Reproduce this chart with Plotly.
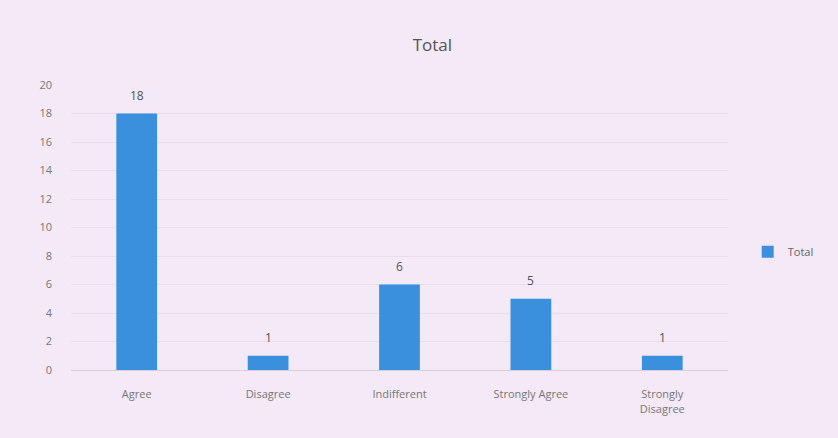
import plotly.graph_objects as go

categories = ["Agree", "Disagree", "Indifferent", "Strongly Agree", "Strongly<br>Disagree"]
values = [18, 1, 6, 5, 1]
y_ticks = [0, 2, 4, 6, 8, 10, 12, 14, 16, 18, 20]

bg = "#f4e9f6"
fig = go.Figure()
fig.add_trace(go.Bar(
    x=categories, y=values, name="Total",
    marker=dict(color="#3b90dd", line=dict(width=0)),
    width=0.31,
))
for c, v in zip(categories, values):
    fig.add_annotation(x=c, y=v, text=str(v), showarrow=False, yanchor="bottom",
                       yshift=8, font=dict(family="Open Sans", size=12, color="#555555"))
fig.update_layout(
    width=838, height=438,
    paper_bgcolor=bg, plot_bgcolor=bg,
    margin=dict(l=71, r=110, t=85, b=68, autoexpand=False),
    title=dict(text="Total", x=0.516, xanchor="center", y=0.897, yanchor="middle",
               font=dict(family="Open Sans", size=17, color="#555555")),
    showlegend=True,
    legend=dict(x=1.03, y=0.415, xanchor="left", yanchor="middle",
                font=dict(family="Open Sans", size=11, color="#666666"),
                bgcolor="rgba(0,0,0,0)", itemwidth=30),
    font=dict(family="Open Sans", size=11, color="#777777"),
)
fig.update_xaxes(showgrid=False, showline=True, linecolor="#d9cfdc", linewidth=1,
                 tickfont=dict(size=11, color="#777777"), ticks="", ticklabelstandoff=14)
fig.update_yaxes(range=[0, 20], tickvals=y_ticks, showgrid=True, gridcolor="#e8dded",
                 gridwidth=1, zeroline=False, showline=False, ticks="",
                 tickfont=dict(size=11, color="#777777"), ticklabelstandoff=18)
fig.write_html("out.html", config={"displayModeBar": False},
               post_script="document.body.style.margin='0px';document.body.style.background='%s';" % bg)
